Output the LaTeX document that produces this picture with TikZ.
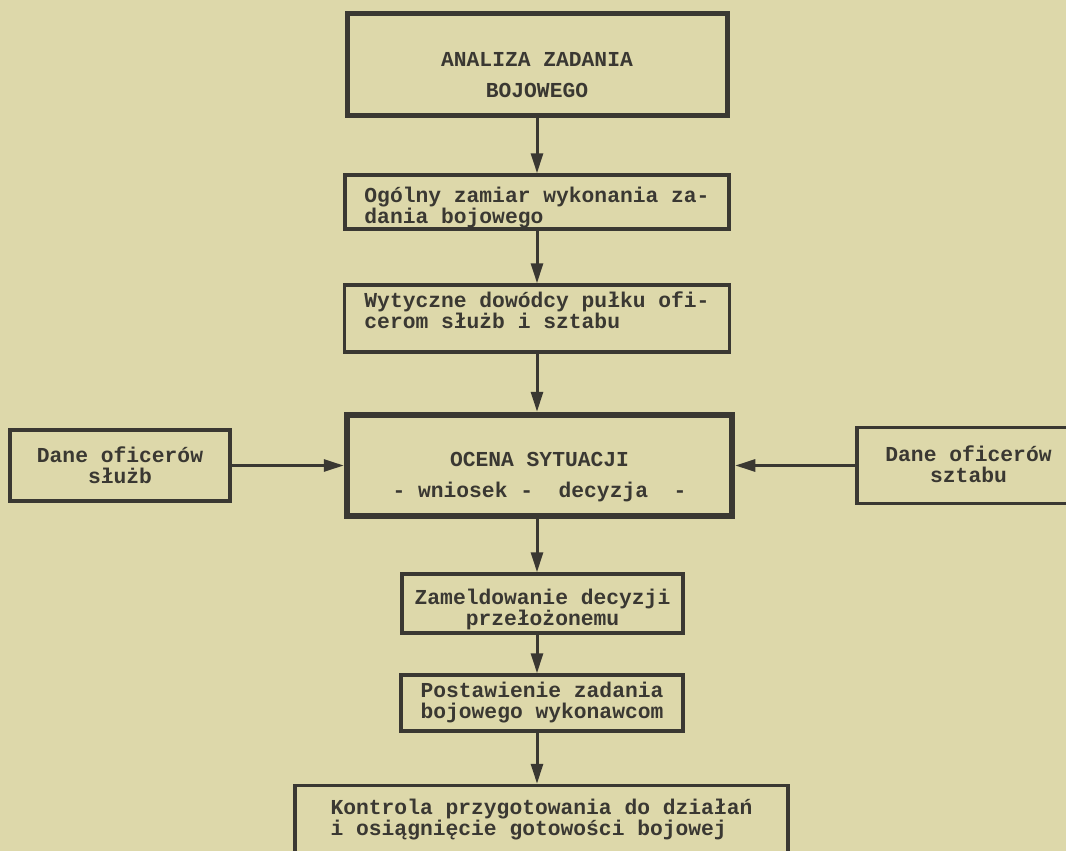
\documentclass[tikz,border=0pt]{standalone}
\usepackage{fontspec}
\setmonofont{Liberation Mono}
\usepackage{tikz}
\usetikzlibrary{arrows.meta}
\definecolor{paper}{RGB}{221,216,170}
\definecolor{ink}{RGB}{58,56,50}
\tikzset{
  box/.style={draw=ink,line width=3.5pt,text=ink,inner sep=0pt,text depth=0pt,
    font=\ttfamily\bfseries\fontsize{21.3}{21}\selectfont},
  bigbox/.style={box,line width=5pt,
    font=\ttfamily\bfseries\fontsize{21.3}{31}\selectfont},
  arr/.style={draw=ink,line width=3pt,-{Triangle[length=20pt,width=12pt]}}
}
\begin{document}
\begin{tikzpicture}[x=1pt,y=-1pt]
  \fill[paper] (0,0) rectangle (1066,851);
  \useasboundingbox (0,0) rectangle (1066,851);
  % Main column
  \node[bigbox,minimum width=380,minimum height=101,align=center,text height=65]
    (analiza) at (537,64.5) {ANALIZA ZADANIA\\BOJOWEGO};
  \node[box,minimum width=384,minimum height=54,align=left,text height=42]
    (zamiar) at (537,202) {Ogólny zamiar wykonania za-\\dania bojowego};
  \node[box,minimum width=385,minimum height=67,align=left,text height=19]
    (wytyczne) at (537,318.5) {Wytyczne dowódcy pułku ofi-\\cerom służb i sztabu};
  \node[bigbox,line width=6.5pt,minimum width=385,minimum height=101,align=center,text height=63]
    (ocena) at (539.5,465.5) {OCENA SYTUACJI\\-\ wniosek\ -\ \ decyzja\ \ -};
  \node[box,minimum width=281,minimum height=59,align=center,text height=43]
    (zameld) at (542.5,603.5) {Zameldowanie decyzji\\przełożonemu};
  \node[box,minimum width=282,minimum height=56,align=center,text height=30]
    (postaw) at (542,703) {Postawienie zadania\\bojowego wykonawcom};
  \node[box,minimum width=493,minimum height=80,align=left,text height=20]
    (kontrola) at (541.5,825.5) {Kontrola przygotowania do działań\\i osiągnięcie gotowości bojowej};
  % Side boxes
  \node[box,minimum width=220,minimum height=71,align=center,text height=35]
    (sluzb) at (120,465.5) {Dane oficerów\\służb};
  \node[box,minimum width=223,minimum height=76,align=center,text height=33]
    (sztab) at (968.5,465.5) {Dane oficerów\\sztabu};
  % Arrows
  \draw[arr] (analiza.south) -- (zamiar.north);
  \draw[arr] (zamiar.south) -- (wytyczne.north);
  \draw[arr] (wytyczne.south) -- (wytyczne.south |- ocena.north);
  \draw[arr] (ocena.south -| wytyczne.south) -- (zameld.north -| wytyczne.south);
  \draw[arr] (zameld.south -| wytyczne.south) -- (postaw.north -| wytyczne.south);
  \draw[arr] (postaw.south -| wytyczne.south) -- (kontrola.north -| wytyczne.south);
  \draw[arr] (sluzb.east) -- (ocena.west);
  \draw[arr] (sztab.west) -- (ocena.east);
\end{tikzpicture}
\end{document}
